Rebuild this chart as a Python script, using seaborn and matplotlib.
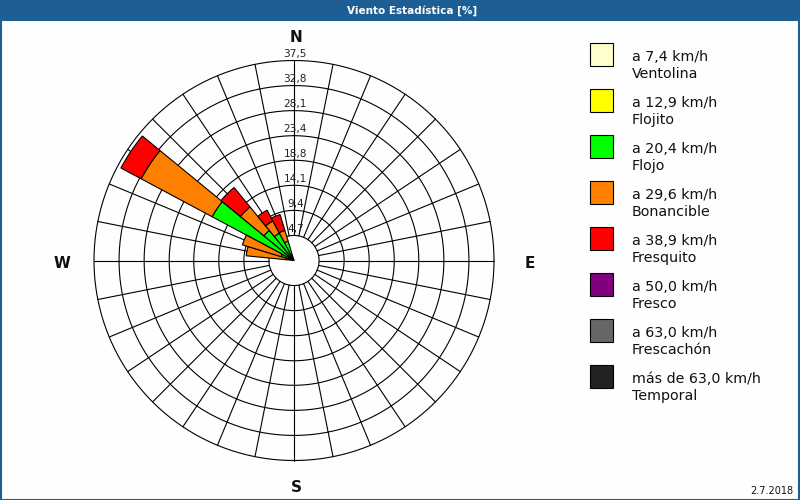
import numpy as np
import matplotlib
matplotlib.use("Agg")
import matplotlib.pyplot as plt
from matplotlib.patches import Rectangle
import seaborn as sns

# ---------------- data ----------------
title = "Viento Estadística [%]"
date_label = "2.7.2018"

directions_deg = [281.25, 292.5, 303.75, 315.0, 326.25, 337.5]
sector_width_deg = 11.25

class_ranges = ["a 7,4 km/h", "a 12,9 km/h", "a 20,4 km/h", "a 29,6 km/h",
                "a 38,9 km/h", "a 50,0 km/h", "a 63,0 km/h", "más de 63,0 km/h"]
class_names = ["Ventolina", "Flojito", "Flojo", "Bonancible",
               "Fresquito", "Fresco", "Frescachón", "Temporal"]
class_colors = ["#ffffcc", "#ffff00", "#00ff00", "#ff8000",
                "#ff0000", "#800080", "#666666", "#222222"]

ventolina  = [0.0, 0.0, 0.0, 0.0, 0.0, 0.0]
flojito    = [0.0, 0.0, 0.0, 0.0, 0.0, 0.0]
flojo      = [1.5, 2.5, 17.4, 7.3, 5.8, 3.8]
bonancible = [7.5, 7.6, 15.1, 5.7, 2.6, 2.1]
fresquito  = [0.0, 0.0, 4.3, 4.7, 2.3, 3.1]
fresco     = [0.0, 0.0, 0.0, 0.0, 0.0, 0.0]
frescachon = [0.0, 0.0, 0.0, 0.0, 0.0, 0.0]
temporal   = [0.0, 0.0, 0.0, 0.0, 0.0, 0.0]

ring_values = [4.7, 9.4, 14.1, 18.8, 23.4, 28.1, 32.8, 37.5]
ring_labels = ["4,7", "9,4", "14,1", "18,8", "23,4", "28,1", "32,8", "37,5"]
n_spokes = 32
compass_labels = ["N", "E", "S", "W"]

# ---------------- style ----------------
sns.set_style("white")
plt.rcParams['font.family'] = ['DejaVu Sans']

W, H = 800, 500
fig = plt.figure(figsize=(8, 5), dpi=100)
fig.patch.set_facecolor("#fdfefd")

cx, cy, R = 294, 260.5, 200  # pixel centre / radius of outer ring
ax = fig.add_axes([(cx - R) / W, (H - cy - R) / H, 2 * R / W, 2 * R / H],
                  projection="polar")
ax.set_theta_zero_location("N")
ax.set_theta_direction(-1)
ax.set_ylim(0, ring_values[-1])
ax.set_axis_off()

# grid rings and spokes
th = np.linspace(0, 2 * np.pi, 721)
for v in ring_values:
    ax.plot(th, np.full_like(th, v), color="black", lw=0.8, zorder=1, clip_on=False)
for k in range(n_spokes):
    a = np.deg2rad(k * 360.0 / n_spokes)
    ax.plot([a, a], [ring_values[0], ring_values[-1]], color="black", lw=0.8,
            zorder=1, clip_on=False)

# stacked bars
series = [ventolina, flojito, flojo, bonancible, fresquito, fresco, frescachon, temporal]
theta = np.deg2rad(directions_deg)
bottom = np.zeros(len(directions_deg))
for vals, col in zip(series, class_colors):
    vals = np.asarray(vals, dtype=float)
    m = vals > 0
    if m.any():
        ax.bar(theta[m], vals[m], width=np.deg2rad(sector_width_deg),
               bottom=bottom[m], color=col, edgecolor="black", linewidth=0.8,
               align="center", zorder=2)
    bottom = bottom + vals

# ring labels
for v, lbl in zip(ring_values, ring_labels):
    ax.annotate(lbl, xy=(0, v), xytext=(1, 1.2), textcoords="offset points",
                ha="center", va="bottom", fontsize=7.6, color="#222222", zorder=3,
                annotation_clip=False)

# compass letters
compass_pos = {"N": (296, 37), "S": (296, 488), "W": (62, 263), "E": (530, 263)}
for c in compass_labels:
    x, y = compass_pos[c]
    fig.text(x / W, 1 - y / H, c, ha="center", va="center",
             fontsize=11, fontweight="bold", color="#111111")

# title band
fig.patches.append(Rectangle((0, 1 - 21 / H), 1, 21 / H, transform=fig.transFigure,
                             facecolor="#1d5f95", edgecolor="none", zorder=0))
fig.text(412 / W, 1 - 10.5 / H, title, ha="center", va="center", color="white",
         fontsize=7.5, fontweight="bold")
# frame
fig.patches.append(Rectangle((0.5 / W, 0.5 / H), 1 - 1.5 / W, 1 - 1.5 / H,
                             transform=fig.transFigure, facecolor="none",
                             edgecolor="#1d5f95", linewidth=1.5, zorder=5))

# legend
for i, (rng, name, col) in enumerate(zip(class_ranges, class_names, class_colors)):
    top = 43 + 46 * i
    fig.patches.append(Rectangle((590 / W, 1 - (top + 23) / H), 23 / W, 23 / H,
                                 transform=fig.transFigure, facecolor=col,
                                 edgecolor="black", linewidth=0.8))
    fig.text(632 / W, 1 - (top + 14) / H, rng, ha="left", va="center",
             fontsize=10.3, color="#111111")
    fig.text(632 / W, 1 - (top + 31) / H, name, ha="left", va="center",
             fontsize=10.3, color="#111111")

fig.text(793 / W, 1 - 491 / H, date_label, ha="right", va="center",
         fontsize=7, color="#111111")

fig.savefig("out.png", dpi=100, facecolor=fig.get_facecolor())
